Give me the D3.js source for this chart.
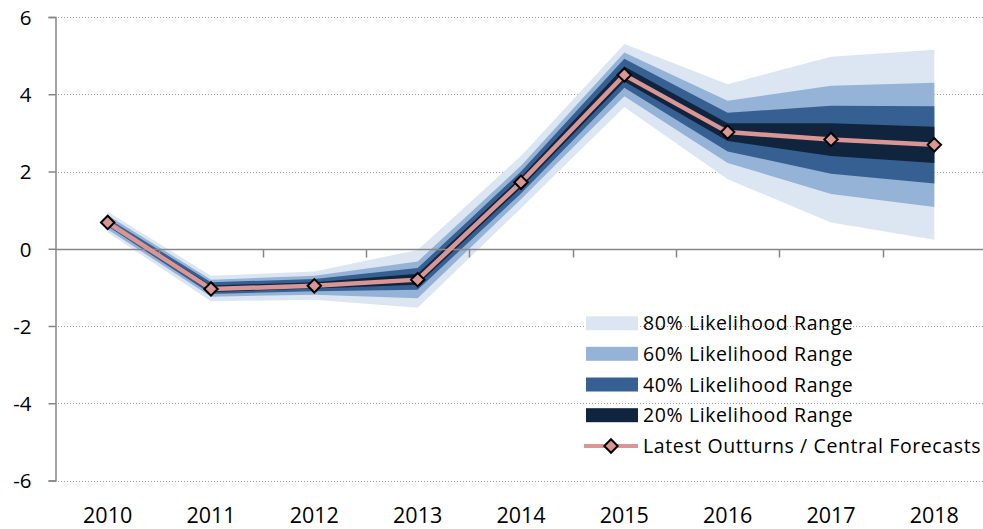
<!DOCTYPE html>
<html>
<head>
<meta charset="utf-8">
<script src="https://cdn.jsdelivr.net/npm/d3@7"></script>
<style>
  html, body { margin: 0; padding: 0; background: #fff; }
  svg { display: block; font-family: "Open Sans", sans-serif; }
</style>
</head>
<body>
<svg id="chart" width="983" height="529"></svg>
<script>
const years = ["2010","2011","2012","2013","2014","2015","2016","2017","2018"];
const central = [0.68, -1.04, -0.96, -0.80, 1.72, 4.50, 3.02, 2.83, 2.69];
const upper80 = [0.96, -0.70, -0.59, -0.03, 2.40, 5.30, 4.26, 4.97, 5.15];
const lower80 = [0.42, -1.36, -1.32, -1.53, 1.05, 3.67, 1.80, 0.68, 0.23];
const upper60 = [0.87, -0.80, -0.70, -0.33, 2.15, 5.08, 3.83, 4.22, 4.30];
const lower60 = [0.50, -1.24, -1.19, -1.28, 1.28, 3.95, 2.22, 1.42, 1.08];
const upper40 = [0.79, -0.87, -0.78, -0.50, 2.00, 4.92, 3.52, 3.70, 3.69];
const lower40 = [0.58, -1.17, -1.10, -1.06, 1.43, 4.17, 2.52, 1.94, 1.69];
const upper20 = [0.73, -0.95, -0.87, -0.65, 1.86, 4.72, 3.25, 3.25, 3.16];
const lower20 = [0.63, -1.12, -1.03, -0.93, 1.58, 4.33, 2.79, 2.40, 2.22];
const yTicks = [-6, -4, -2, 0, 2, 4, 6];
const legendLabels = ["80% Likelihood Range", "60% Likelihood Range", "40% Likelihood Range", "20% Likelihood Range", "Latest Outturns / Central Forecasts"];

const colors = { r80: "#dce6f2", r60: "#95b3d7", r40: "#376092", r20: "#10243e", line: "#d99694" };

const svg = d3.select("#chart");
const x = d3.scaleBand().domain(years).range([56, 986]).padding(0);
const y = d3.scaleLinear().domain([-6, 6]).range([480.5, 17]);
const cx = d => x(d) + x.bandwidth() / 2;

// gridlines
svg.append("g").selectAll("line").data(yTicks.filter(t => t !== 0)).join("line")
  .attr("x1", 55).attr("x2", 983)
  .attr("y1", d => Math.round(y(d)) + 0.5).attr("y2", d => Math.round(y(d)) + 0.5)
  .attr("stroke", "#9a9a9a").attr("stroke-width", 1).attr("stroke-dasharray", "1,2");

// bands
const ranges = [
  { up: upper80, lo: lower80, c: colors.r80 },
  { up: upper60, lo: lower60, c: colors.r60 },
  { up: upper40, lo: lower40, c: colors.r40 },
  { up: upper20, lo: lower20, c: colors.r20 }
];
ranges.forEach(r => {
  const area = d3.area()
    .x((d, i) => cx(years[i]))
    .y0((d, i) => y(r.lo[i]))
    .y1((d, i) => y(r.up[i]));
  svg.append("path").datum(years).attr("d", area).attr("fill", r.c);
});

// axes
const yAxis = d3.axisLeft(y).tickValues(yTicks).tickSize(7).tickFormat(d3.format("d"));
const gy = svg.append("g").attr("transform", "translate(55.5,0)").call(yAxis);
gy.select(".domain").attr("stroke", "#868686").attr("stroke-width", 1.5);
gy.selectAll(".tick line").attr("stroke", "#868686").attr("stroke-width", 1.5);
gy.selectAll(".tick text").attr("font-family", "'Open Sans', sans-serif").attr("font-size", 20.5)
  .attr("fill", "#000").attr("x", -24).attr("dy", "0.36em").text(d => d < 0 ? "-" + Math.abs(d) : d);

const y0 = Math.round(y(0)) + 0.5;
svg.append("line").attr("x1", 55).attr("x2", 986).attr("y1", y0).attr("y2", y0)
  .attr("stroke", "#868686").attr("stroke-width", 1.5);
const xAxis = d3.axisBottom(x).tickSize(0).tickFormat(d => d);
const gx = svg.append("g").attr("transform", `translate(0,${y0})`).call(xAxis);
gx.select(".domain").remove();
// ticks between categories
gx.selectAll(".boundary").data(years.slice(1)).join("line")
  .attr("x1", d => Math.round(x(d)) + 0.5).attr("x2", d => Math.round(x(d)) + 0.5)
  .attr("y1", 0).attr("y2", 8).attr("stroke", "#868686").attr("stroke-width", 1.5);
gx.selectAll(".tick text").attr("font-family", "'Open Sans', sans-serif").attr("font-size", 21.5)
  .attr("fill", "#000").attr("y", 523 - y0).attr("dy", 0);

// central line
const line = d3.line().x((d, i) => cx(years[i])).y(d => y(d));
svg.append("path").datum(central).attr("d", line).attr("fill", "none")
  .attr("stroke", colors.line).attr("stroke-width", 4.5);
const diamond = d3.symbol().type(d3.symbolDiamond2).size(115);
svg.append("g").selectAll("path").data(central).join("path")
  .attr("transform", (d, i) => `translate(${cx(years[i])},${y(d)})`)
  .attr("d", diamond).attr("fill", colors.line).attr("stroke", "#000").attr("stroke-width", 2);

// legend
const lg = svg.append("g");
const rowY = [323.3, 353.8, 384.5, 415.2, 446];
const swatchCols = [colors.r80, colors.r60, colors.r40, colors.r20];
swatchCols.forEach((c, i) => {
  lg.append("rect").attr("x", 586).attr("y", rowY[i] - 7).attr("width", 52).attr("height", 14).attr("fill", c);
});
lg.append("line").attr("x1", 584).attr("x2", 638).attr("y1", rowY[4]).attr("y2", rowY[4])
  .attr("stroke", colors.line).attr("stroke-width", 4);
lg.append("path").attr("transform", `translate(611,${rowY[4]})`).attr("d", diamond)
  .attr("fill", colors.line).attr("stroke", "#000").attr("stroke-width", 2);
legendLabels.forEach((t, i) => {
  lg.append("text").attr("x", 643).attr("y", rowY[i]).attr("dy", "0.36em")
    .attr("font-family", "'Open Sans', sans-serif").attr("font-size", 19.5)
    .attr("letter-spacing", 0.6).attr("fill", "#000").text(t);
});
</script>
</body>
</html>
